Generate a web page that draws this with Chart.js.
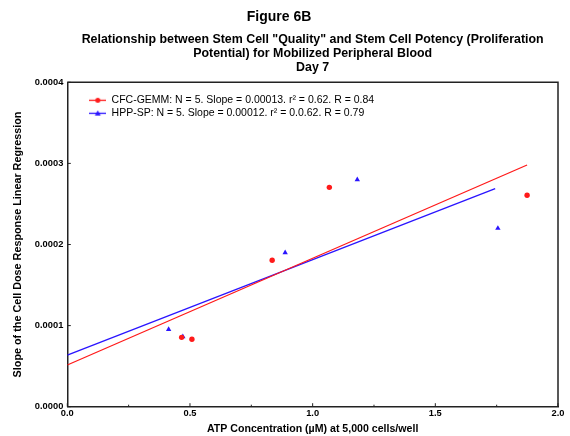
<!DOCTYPE html>
<html><head><meta charset="utf-8">
<script src="https://cdn.jsdelivr.net/npm/chart.js@4/dist/chart.umd.min.js"></script>
<style>html,body{margin:0;padding:0;background:#fff;}#wrap{width:570px;height:436px;}</style>
</head><body><div id="wrap"><canvas id="c" width="570" height="436"></canvas></div>
<script>
// ---- data ----
const cfcX = [0.466, 0.508, 0.835, 1.068, 1.874];
const cfcY = [0.0000855, 0.0000831, 0.0001805, 0.0002705, 0.0002607];
const hppX = [0.413, 0.471, 0.888, 1.182, 1.755];
const hppY = [0.0000954, 0.0000863, 0.00019, 0.00028, 0.00022];
const cfcFitX = [0, 1.874];
const cfcFitY = [0.0000514, 0.000298];
const hppFitX = [0, 1.744];
const hppFitY = [0.0000637, 0.000269];
const xTicks = [0, 0.5, 1.0, 1.5, 2.0];
const yTicks = [0, 0.0001, 0.0002, 0.0003, 0.0004];
const legendLabels = [
  'CFC-GEMM: N = 5. Slope = 0.00013. r\u00B2 = 0.62. R = 0.84',
  'HPP-SP: N = 5. Slope = 0.00012. r\u00B2 = 0.0.62. R = 0.79'
];
const titleText = 'Figure 6B';
const subtitleLines = [
  'Relationship between Stem Cell "Quality" and Stem Cell Potency (Proliferation',
  'Potential) for Mobilized Peripheral Blood',
  'Day 7'
];
const xTitle = 'ATP Concentration (\u00B5M) at 5,000 cells/well';
const yTitle = 'Slope of the Cell Dose Response Linear Regression';

// ---- styling ----
const RED = '#ff1a1a', BLUE = '#2a14ff';
const FONT = "'Liberation Sans', Arial, Helvetica, sans-serif";
Chart.defaults.font.family = FONT;
Chart.defaults.color = '#000';

function pts(xs, ys) { return xs.map((v, i) => ({x: v, y: ys[i]})); }

function legendIcon(color, style) {
  const c = document.createElement('canvas'); c.width = 17; c.height = 7;
  const g = c.getContext('2d');
  g.strokeStyle = color; g.lineWidth = 1.3;
  g.beginPath(); g.moveTo(0, 3.5); g.lineTo(17, 3.5); g.stroke();
  g.fillStyle = color; g.beginPath();
  if (style === 'circle') { g.arc(8.5, 3.5, 2.5, 0, Math.PI * 2); }
  else { g.moveTo(8.5, 0.6); g.lineTo(11.4, 5.8); g.lineTo(5.6, 5.8); g.closePath(); }
  g.fill();
  return c;
}
const icons = [legendIcon(RED, 'circle'), legendIcon(BLUE, 'triangle')];
const iconColors = [RED, BLUE];

const frameTicks = {
  id: 'frameTicks',
  afterLayout(chart) {
    const lg = chart.legend, a = chart.chartArea;
    if (lg) { lg.left = a.left + 19.5; lg.top = a.top + 10.2; }
  },
  afterDraw(chart) {
    const {ctx, chartArea: a, scales: {x, y}} = chart;
    const line = (x1, y1, x2, y2) => { ctx.beginPath(); ctx.moveTo(x1, y1); ctx.lineTo(x2, y2); ctx.stroke(); };
    ctx.save();
    ctx.strokeStyle = '#222'; ctx.lineWidth = 1.5;
    ctx.beginPath(); ctx.moveTo(a.left, a.top); ctx.lineTo(a.right, a.top); ctx.lineTo(a.right, a.bottom); ctx.stroke();
    ctx.lineWidth = 1;
    x.ticks.forEach((t, i) => {
      const px = x.getPixelForValue(t.value);
      line(px, a.bottom, px, a.bottom - 3.5);
      if (i < x.ticks.length - 1) {
        const m = x.getPixelForValue((t.value + x.ticks[i + 1].value) / 2);
        line(m, a.bottom, m, a.bottom - 2);
      }
    });
    y.ticks.forEach(t => { const py = y.getPixelForValue(t.value); line(a.left, py, a.left + 3.5, py); });
    ctx.restore();
  }
};

new Chart(document.getElementById('c'), {
  type: 'scatter',
  data: {
    datasets: [
      { label: legendLabels[0], data: pts(cfcX, cfcY), pointStyle: 'circle', pointRadius: 2.7,
        backgroundColor: RED, borderColor: RED, borderWidth: 0, showLine: false },
      { label: legendLabels[1], data: pts(hppX, hppY), pointStyle: 'triangle', pointRadius: 3.1,
        backgroundColor: BLUE, borderColor: BLUE, borderWidth: 0, showLine: false },
      { label: 'CFC-GEMM fit', data: pts(cfcFitX, cfcFitY), showLine: true, pointRadius: 0,
        borderColor: RED, borderWidth: 1.3, backgroundColor: RED },
      { label: 'HPP-SP fit', data: pts(hppFitX, hppFitY), showLine: true, pointRadius: 0,
        borderColor: BLUE, borderWidth: 1.3, backgroundColor: BLUE }
    ]
  },
  options: {
    responsive: false,
    animation: false,
    devicePixelRatio: 1,
    layout: { padding: { left: 0, right: 12, top: 0, bottom: 0 } },
    plugins: {
      title: { display: true, text: titleText, fullSize: true, color: '#000',
        font: { size: 14, weight: 'bold' }, padding: { top: 8.5, bottom: 0 } },
      subtitle: { display: true, text: subtitleLines, fullSize: false, color: '#000',
        font: { size: 12.4, weight: 'bold', lineHeight: 1.105 }, padding: { top: 7.6, bottom: 8.3 } },
      legend: {
        display: true, position: 'chartArea', align: 'start',
        labels: {
          usePointStyle: true, pointStyleWidth: 17, boxHeight: 7, padding: 2.5,
          font: { size: 10.5 }, color: '#000',
          generateLabels() {
            return legendLabels.map((text, i) => ({
              text, pointStyle: icons[i], fillStyle: iconColors[i], strokeStyle: iconColors[i],
              lineWidth: 0, hidden: false, datasetIndex: i, fontColor: '#000'
            }));
          }
        }
      },
      tooltip: { enabled: false }
    },
    scales: {
      x: {
        type: 'linear', min: 0, max: 2,
        afterBuildTicks: s => { s.ticks = xTicks.map(v => ({ value: v })); },
        afterFit: s => { s.height = 29.3; },
        ticks: { callback: v => Number(v).toFixed(1), font: { size: 9.3, weight: 'bold' }, color: '#000', padding: 1, maxRotation: 0 },
        grid: { display: false, drawTicks: false },
        border: { display: true, color: '#222', width: 1.5 },
        title: { display: true, text: xTitle, color: '#000', font: { size: 10.6, weight: 'bold' }, padding: { top: 0, bottom: 1 } }
      },
      y: {
        type: 'linear', min: 0, max: 0.0004,
        afterBuildTicks: s => { s.ticks = yTicks.map(v => ({ value: v })); },
        afterFit: s => { s.width = 67.3; },
        ticks: { callback: v => Number(v).toFixed(4), font: { size: 9.3, weight: 'bold' }, color: '#000', padding: 4 },
        grid: { display: false, drawTicks: false },
        border: { display: true, color: '#222', width: 1.5 },
        title: { display: true, text: yTitle, color: '#000', font: { size: 10.8, weight: 'bold' }, padding: { top: 11.6, bottom: 0 } }
      }
    }
  },
  plugins: [frameTicks]
});
</script>
</body></html>
